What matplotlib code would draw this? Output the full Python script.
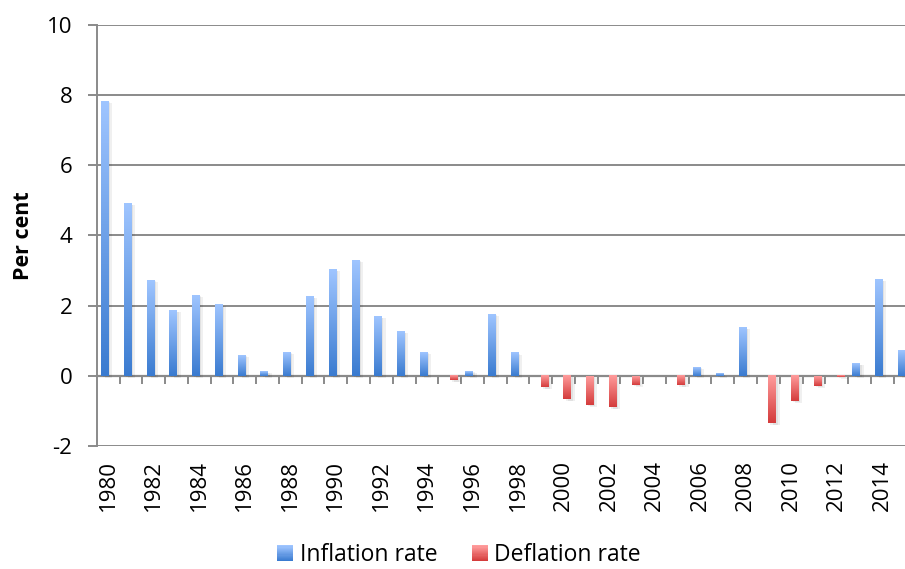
import numpy as np
import matplotlib
matplotlib.use('Agg')
import matplotlib.pyplot as plt
import matplotlib.patheffects as pe
from matplotlib.colors import LinearSegmentedColormap
from matplotlib.patches import Rectangle
from matplotlib.legend_handler import HandlerBase

# ---- data ----
years = list(range(1980, 2016))
inflation = [7.83, 4.92, 2.73, 1.87, 2.30, 2.04, 0.59, 0.13, 0.68, 2.27,
             3.04, 3.30, 1.70, 1.27, 0.68, 0.00, 0.14, 1.76, 0.66, 0.00,
             0.00, 0.00, 0.00, 0.00, 0.00, 0.00, 0.25, 0.06, 1.38, 0.00,
             0.00, 0.00, 0.00, 0.36, 2.75, 0.73]
deflation = [0.00, 0.00, 0.00, 0.00, 0.00, 0.00, 0.00, 0.00, 0.00, 0.00,
             0.00, 0.00, 0.00, 0.00, 0.00, -0.13, 0.00, 0.00, 0.00, -0.33,
             -0.67, -0.82, -0.90, -0.25, 0.00, -0.27, 0.00, 0.00, 0.00, -1.35,
             -0.72, -0.28, -0.03, 0.00, 0.00, 0.00]
yticks = [-2, 0, 2, 4, 6, 8, 10]
xtick_years = years[::2]

# ---- style ----
plt.rcParams['font.family'] = ['Open Sans', 'DejaVu Sans']
grey = '#8a8a8a'
blue_cmap = LinearSegmentedColormap.from_list('blue', ['#3a7bd0', '#9fc5ff'])
red_cmap = LinearSegmentedColormap.from_list('red', ['#d43c3c', '#ff9c9c'])

fig = plt.figure(figsize=(9.05, 5.69), dpi=100)
ax = fig.add_axes([0.1069, 0.2162, 0.9057, 0.7400])

x = np.arange(len(years))
w = 0.31
# soft-ish drop shadow to the right of each bar
shadow = [pe.SimplePatchShadow(offset=(3, -1.5), shadow_rgbFace='k', alpha=0.06),
          pe.SimplePatchShadow(offset=(1.5, -1), shadow_rgbFace='k', alpha=0.06),
          pe.Normal()]
bars_inf = ax.bar(x - w / 2, inflation, width=w, color='#6fa0e8', zorder=2)
bars_def = ax.bar(x + w / 2, deflation, width=w, color='#ea6b6b', zorder=2)

# gradient fill on each bar: light at top, dark at bottom
grad = np.linspace(0, 1, 128).reshape(-1, 1)
for bars, cmap in ((bars_inf, blue_cmap), (bars_def, red_cmap)):
    for b in bars:
        h = b.get_height()
        if h == 0:
            b.set_visible(False)
            continue
        b.set_path_effects(shadow)
        x0 = b.get_x()
        y0 = b.get_y()
        ylo, yhi = sorted([y0, y0 + h])
        ax.imshow(grad, extent=[x0, x0 + b.get_width(), ylo, yhi], origin='lower',
                  cmap=cmap, aspect='auto', zorder=3, interpolation='bilinear')

ax.set_xlim(-0.5, len(years) - 0.5)
ax.set_ylim(-2, 10)

# y axis
ax.set_yticks(yticks)
ax.set_yticklabels([str(v) for v in yticks], fontsize=16)
ax.tick_params(axis='y', length=6.5, width=1.4, color=grey, pad=11)
ax.yaxis.grid(True, color=grey, linewidth=1.4)
ax.set_axisbelow(True)
ax.set_ylabel('Per cent', fontsize=15.5, fontweight='bold')
ax.yaxis.set_label_coords(-0.076, 0.5)

# x labels below the plot
ax.set_xticks([years.index(yr) for yr in xtick_years])
ax.set_xticklabels([str(yr) for yr in xtick_years], rotation=90, fontsize=16)
ax.tick_params(axis='x', length=0, pad=10)

for s in ('top', 'right', 'bottom'):
    ax.spines[s].set_visible(False)
ax.spines['left'].set_color(grey)
ax.spines['left'].set_linewidth(1.4)

# category axis at zero with ticks between categories
sec = ax.secondary_xaxis(2 / 12)
sec.set_xticks(np.arange(0.5, len(years) - 0.5, 1))
sec.tick_params(axis='x', labelbottom=False, labeltop=False, length=5.5, width=1.4,
                color=grey, direction='out')
sec.xaxis.set_ticks_position('bottom')
sec.tick_params(axis='x', labelbottom=False)
for s in sec.spines.values():
    s.set_color(grey)
    s.set_linewidth(1.6)


# legend with gradient squares
class GradHandler(HandlerBase):
    def __init__(self, cmap):
        super().__init__()
        self.cmap = cmap

    def create_artists(self, legend, orig_handle, xdescent, ydescent, width, height, fontsize, trans):
        n = 14
        out = []
        for i in range(n):
            out.append(Rectangle((-xdescent, -ydescent + i * height / n), width, height / n + 0.05,
                                 facecolor=self.cmap(i / (n - 1)), edgecolor='none', transform=trans))
        return out


h1 = Rectangle((0, 0), 1, 1)
h2 = Rectangle((0, 0), 1, 1)
fig.legend([h1, h2], ['Inflation rate', 'Deflation rate'], loc='center',
           bbox_to_anchor=(0.507, 0.024), ncol=2, frameon=False, fontsize=16.5,
           handlelength=0.7, handleheight=0.7, handletextpad=0.3, columnspacing=1.5,
           borderpad=0.2, handler_map={h1: GradHandler(blue_cmap), h2: GradHandler(red_cmap)})

fig.savefig('out.png', dpi=100)
